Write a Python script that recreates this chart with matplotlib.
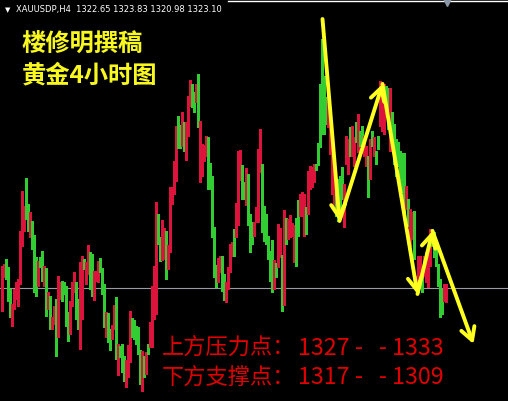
import matplotlib
matplotlib.use('Agg')
import matplotlib.pyplot as plt
import numpy as np

# XAUUSD H4 bars (high, low) and direction (G up / R down)
highs = [1325.3, 1325.5, 1326.0, 1325.2, 1323.0, 1321.5, 1323.0, 1323.7, 1324.0, 1328.8,
         1332.8, 1331.3, 1334.1, 1331.5, 1330.7, 1329.8, 1328.4, 1326.2, 1325.8, 1326.2,
         1326.8, 1325.3, 1325.1, 1322.7, 1322.3, 1320.2, 1321.3, 1322.0, 1324.3, 1323.7,
         1323.8, 1323.7, 1323.3, 1320.7, 1321.8, 1323.7, 1324.7, 1323.7, 1322.0, 1325.7,
         1326.3, 1326.0, 1325.7, 1327.4, 1326.7, 1326.5, 1324.8, 1324.8, 1325.8, 1326.1,
         1325.1, 1323.5, 1320.7, 1320.6, 1319.0, 1319.4, 1321.4, 1322.2, 1317.5, 1317.3,
         1317.5, 1316.3, 1315.9, 1317.4, 1320.8, 1320.1, 1319.9, 1319.3, 1319.2, 1316.9,
         1316.8, 1316.3, 1316.7, 1317.5, 1319.7, 1323.3, 1325.3, 1331.7, 1330.5, 1328.2,
         1329.9, 1329.1, 1328.8, 1327.4, 1333.2, 1333.2, 1335.8, 1339.3, 1340.3, 1339.4,
         1340.7, 1339.7, 1339.7, 1342.3, 1343.9, 1343.5, 1342.7, 1343.5, 1344.5, 1339.8,
         1337.5, 1337.4, 1338.3, 1338.2, 1335.6, 1334.3, 1329.2, 1325.4, 1326.1, 1326.3,
         1326.3, 1324.5, 1323.7, 1325.2, 1327.5, 1327.7, 1329.0, 1331.6, 1336.8, 1336.9,
         1335.4, 1333.7, 1335.1, 1334.5, 1330.5, 1329.7, 1329.7, 1331.2, 1337.0, 1339.0,
         1335.5, 1331.3, 1330.5, 1328.3, 1326.8, 1327.9, 1325.9, 1325.6, 1329.5, 1329.1,
         1326.4, 1330.9, 1330.1, 1330.0, 1330.4, 1329.6, 1329.4, 1330.1, 1331.9, 1332.5,
         1332.7, 1332.5, 1331.2, 1334.8, 1335.3, 1335.2, 1335.5, 1335.5, 1337.6, 1343.5,
         1348.0, 1344.3, 1342.2, 1343.0, 1340.0, 1338.0, 1334.8, 1332.8, 1334.0, 1334.3,
         1335.2, 1333.5, 1338.3, 1338.0, 1339.2, 1339.3, 1338.2, 1339.7, 1340.5, 1338.8,
         1339.3, 1338.3, 1337.3, 1336.3, 1338.0, 1338.8, 1338.2, 1336.8, 1338.3, 1343.8,
         1343.7, 1343.5, 1343.3, 1343.1, 1343.1, 1340.7, 1339.5, 1338.0, 1337.7, 1336.8,
         1336.6, 1336.6, 1333.3, 1332.0, 1331.0, 1330.7, 1330.8, 1324.3, 1326.3, 1326.3,
         1324.7, 1326.3, 1326.7, 1327.3, 1329.0, 1329.0, 1328.7, 1327.3, 1325.5, 1324.0,
         1323.0, 1323.5, 1323.5]
lows = [1320.8, 1324.2, 1324.0, 1321.8, 1320.2, 1319.3, 1321.0, 1322.0, 1321.3, 1323.5,
        1327.3, 1328.8, 1330.0, 1328.8, 1328.2, 1327.0, 1322.7, 1322.3, 1323.3, 1325.2,
        1323.8, 1323.3, 1320.3, 1321.0, 1319.0, 1319.0, 1319.5, 1316.3, 1318.2, 1322.0,
        1321.8, 1322.5, 1319.3, 1317.8, 1318.5, 1321.3, 1322.7, 1320.0, 1319.0, 1317.0,
        1320.0, 1325.0, 1323.5, 1324.5, 1323.0, 1322.3, 1321.9, 1323.8, 1323.7, 1324.7,
        1322.5, 1319.2, 1318.2, 1317.7, 1316.9, 1318.0, 1319.0, 1316.0, 1314.4, 1316.2,
        1314.7, 1313.8, 1313.2, 1314.2, 1315.7, 1318.2, 1318.0, 1317.5, 1316.5, 1313.5,
        1312.8, 1314.2, 1314.5, 1316.5, 1317.2, 1317.2, 1320.0, 1320.5, 1327.5, 1325.8,
        1325.9, 1326.0, 1324.0, 1325.0, 1326.7, 1331.5, 1332.5, 1333.8, 1337.1, 1337.1,
        1337.3, 1336.8, 1335.9, 1338.3, 1341.3, 1341.2, 1340.7, 1341.7, 1339.2, 1333.7,
        1334.3, 1335.8, 1336.3, 1333.0, 1333.0, 1328.2, 1324.2, 1323.2, 1323.7, 1324.7,
        1322.8, 1321.9, 1321.7, 1323.0, 1324.7, 1326.3, 1326.3, 1328.2, 1329.4, 1333.9,
        1332.0, 1332.0, 1331.4, 1329.4, 1326.7, 1327.5, 1328.3, 1329.7, 1329.7, 1334.7,
        1328.7, 1327.8, 1327.5, 1326.0, 1323.8, 1322.7, 1323.0, 1324.2, 1325.2, 1326.2,
        1320.8, 1321.4, 1327.5, 1328.0, 1328.2, 1328.3, 1325.7, 1325.3, 1328.3, 1330.3,
        1330.3, 1328.3, 1328.5, 1330.5, 1333.0, 1333.2, 1333.7, 1334.9, 1335.4, 1337.2,
        1338.5, 1338.5, 1339.5, 1339.2, 1336.5, 1332.5, 1331.0, 1330.3, 1329.8, 1330.5,
        1332.0, 1329.2, 1335.5, 1334.5, 1336.3, 1336.3, 1335.3, 1337.7, 1336.7, 1337.3,
        1337.3, 1336.3, 1335.3, 1332.2, 1334.0, 1337.3, 1336.3, 1335.5, 1337.0, 1339.3,
        1338.8, 1338.5, 1342.0, 1339.0, 1336.8, 1337.3, 1335.5, 1334.3, 1335.3, 1333.8,
        1332.7, 1330.7, 1331.0, 1329.3, 1327.3, 1328.0, 1326.0, 1323.0, 1322.7, 1323.3,
        1322.7, 1324.3, 1323.7, 1323.2, 1325.3, 1327.3, 1326.2, 1325.3, 1323.3, 1320.2,
        1320.5, 1321.8, 1321.7]
dirs = ("RRGGGRRRRRRRGGRGGGRGGRGRGRRGRRGGGGRRRGGRRGRRGGRRRGGGRGGRRGRGGGRRRGGGGGRGRGRRRRGGRRGR"
        "RRRRGGRGRRRGGRGRRRRGGGGGRRGGRRRRGRRRGGRGGGRRRRGGGGGGRGRRGRGRRRRGGRRRGRRRRGG"
        "GGGGRRRRGGGGRRRGRRGRGGRRGRGRGGRRRGGRGGGGGGGRGRRGRRRGRRRRGGGGGGRR")

last_close = 1323.10
header = 'XAUUSDP,H4  1322.65 1323.83 1320.98 1323.10'
title1 = '楼修明撰稿'
title2 = '黄金4小时图'
resist_lbl, resist_val = '上方压力点：', '1327 -   - 1333'
support_lbl, support_val = '下方支撑点：', '1317 -   - 1309'

# hand-drawn wave arrows: (bar index, price)
wave = [(161.5, 1350.0), (170.0, 1329.8), (191.5, 1343.5), (209.0, 1322.5),
        (216.5, 1328.8), (237.0, 1317.5)]

n = len(highs)
idx = np.arange(1, n + 1)
up = '#32CD32'
dn = '#DC143C'
cols = [up if dirs[i] == 'G' else dn for i in range(n)]
cjk = ['Noto Sans CJK SC', 'DejaVu Sans']

fig = plt.figure(figsize=(5.08, 4.02), dpi=100)
fig.patch.set_facecolor('black')
ax = fig.add_axes([0, 0, 1, 1])
ax.set_facecolor('black')
ax.set_xlim(0.25, 254.25)
ax.set_ylim(1311.8, 1352.0)
ax.axis('off')

ax.axhline(last_close, color='#9a9aa0', lw=0.8, zorder=1)
ax.vlines(idx, lows, highs, colors=cols, lw=0.75, antialiased=False, zorder=2)

for (x0, y0), (x1, y1) in zip(wave[:-1], wave[1:]):
    ax.annotate('', xy=(x1, y1), xytext=(x0, y0),
                arrowprops=dict(arrowstyle='->,head_length=0.9,head_width=0.5',
                                color='#FFFF20', lw=2.8, shrinkA=0, shrinkB=0),
                zorder=4)

# top border and shift marker
ax.plot([0.449, 1.0], [0.996, 0.996], transform=ax.transAxes, color='white', lw=1.0)
ax.plot([0.88], [0.992], transform=ax.transAxes, marker='v', ms=6, color='#8a96a6',
        linestyle='none')

ax.text(0.010, 0.976, '▼', transform=ax.transAxes, color='white', fontsize=5,
        va='center', ha='left')
ax.text(0.031, 0.976, header, transform=ax.transAxes, color='white', fontsize=6.05,
        va='center', ha='left', family='DejaVu Sans')

ax.text(0.043, 0.891, title1, transform=ax.transAxes, color='#F8F820', fontsize=17.5,
        va='center', ha='left', family=cjk, weight='bold')
ax.text(0.043, 0.813, title2, transform=ax.transAxes, color='#F8F820', fontsize=17.5,
        va='center', ha='left', family=cjk, weight='bold')

for yy, lbl, val in [(0.134, resist_lbl, resist_val), (0.060, support_lbl, support_val)]:
    ax.text(0.319, yy, lbl, transform=ax.transAxes, color='#E00000', fontsize=16,
            va='center', ha='left', family=cjk)
    ax.text(0.587, yy, val, transform=ax.transAxes, color='#E00000', fontsize=16.8,
            va='center', ha='left', family=cjk)

plt.savefig('out.png', dpi=100, facecolor='black')
